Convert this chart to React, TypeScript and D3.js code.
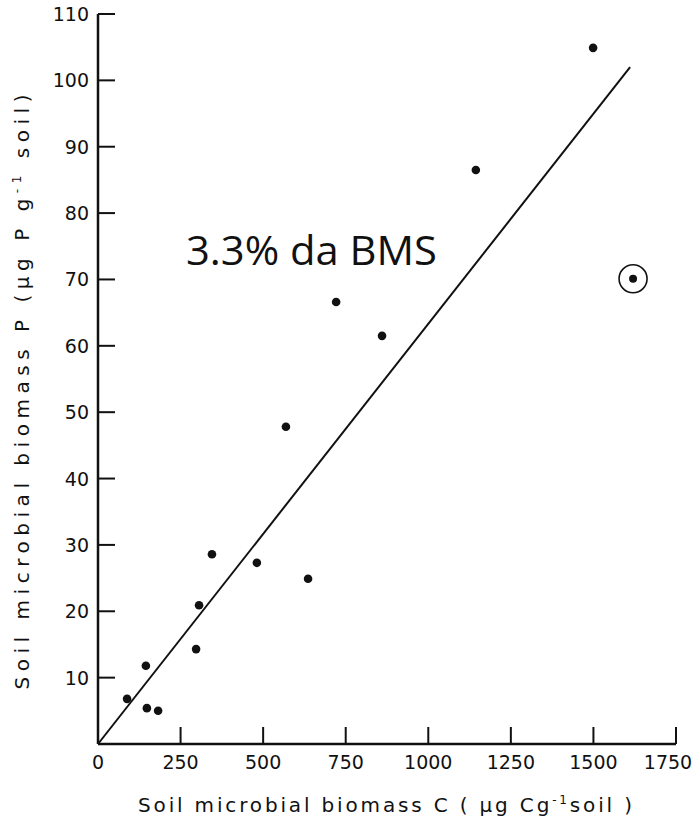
import React from "react";
import * as d3 from "d3";

const biomassC = [88, 145, 148, 182, 297, 306, 345, 481, 569, 636, 721, 860, 1144, 1499];
const biomassP = [6.8, 11.8, 5.4, 5.0, 14.3, 20.9, 28.6, 27.3, 47.8, 24.9, 66.6, 61.5, 86.5, 104.9];
const outlierC = [1620];
const outlierP = [70.1];
const xTicks = [0, 250, 500, 750, 1000, 1250, 1500, 1750];
const yTicks = [10, 20, 30, 40, 50, 60, 70, 80, 90, 100, 110];
const fitLine = [
  { c: 0, p: 0 },
  { c: 1611, p: 102 },
];
const annotation = "3.3% da BMS";

export default function App() {
  const W = 698;
  const H = 835;
  const x = d3.scaleLinear().domain([0, 1750]).range([98, 676]);
  const y = d3.scaleLinear().domain([0, 110]).range([744, 14]);
  const line = d3
    .line<{ c: number; p: number }>()
    .x((d) => x(d.c))
    .y((d) => y(d.p));
  const font = "'DejaVu Sans', sans-serif";
  const tickLen = 17;
  return (
    <svg
      width={W}
      height={H}
      style={{ position: "absolute", left: 0, top: 0, background: "#fff" }}
    >
      {/* axes */}
      <line x1={x(0)} x2={x(0)} y1={y(0)} y2={y(110)} stroke="#111" strokeWidth={2.5} />
      <line x1={x(0)} x2={x(1750)} y1={y(0)} y2={y(0)} stroke="#111" strokeWidth={2.5} />
      {yTicks.map((t) => (
        <g key={"y" + t}>
          <line x1={x(0)} x2={x(0) + tickLen} y1={y(t)} y2={y(t)} stroke="#111" strokeWidth={2} />
          <text
            x={x(0) - 9}
            y={y(t)}
            textAnchor="end"
            dominantBaseline="central"
            fontFamily={font}
            fontSize={19}
            fill="#111"
          >
            {t}
          </text>
        </g>
      ))}
      {xTicks.map((t) => (
        <g key={"x" + t}>
          {t > 0 && (
            <line x1={x(t)} x2={x(t)} y1={y(0)} y2={y(0) - tickLen} stroke="#111" strokeWidth={2} />
          )}
          <text
            x={Math.min(x(t), 668)}
            y={y(0) + 25}
            textAnchor="middle"
            fontFamily={font}
            fontSize={19}
            fill="#111"
          >
            {t}
          </text>
        </g>
      ))}
      {/* fit line */}
      <path d={line(fitLine) || ""} fill="none" stroke="#111" strokeWidth={2} />
      {/* points */}
      {biomassC.map((c, i) => (
        <circle key={"p" + i} cx={x(c)} cy={y(biomassP[i])} r={4.3} fill="#111" />
      ))}
      {outlierC.map((c, i) => (
        <g key={"o" + i}>
          <circle cx={x(c)} cy={y(outlierP[i])} r={4} fill="#111" />
          <circle cx={x(c)} cy={y(outlierP[i])} r={14} fill="none" stroke="#111" strokeWidth={1.6} />
        </g>
      ))}
      {/* annotation */}
      <text
        x={186}
        y={265}
        fontFamily="'Open Sans', 'Noto Sans', sans-serif"
        fontSize={40}
        textLength={251}
        lengthAdjust="spacingAndGlyphs"
        fill="#111"
      >
        {annotation}
      </text>
      {/* axis titles */}
      <text
        x={385}
        y={812}
        textAnchor="middle"
        fontFamily={font}
        fontSize={20}
        textLength={494}
        lengthAdjust="spacing"
        fill="#111"
      >
        Soil microbial biomass C ( μg Cg
        <tspan fontSize={12} dy={-8}>-1</tspan>
        <tspan dy={8}>soil )</tspan>
      </text>
      <text
        transform="translate(29,392) rotate(-90)"
        textAnchor="middle"
        fontFamily={font}
        fontSize={20}
        textLength={595}
        lengthAdjust="spacing"
        fill="#111"
      >
        Soil microbial biomass P (μg P g
        <tspan fontSize={12} dy={-8}>-1</tspan>
        <tspan dy={8}> soil)</tspan>
      </text>
    </svg>
  );
}
